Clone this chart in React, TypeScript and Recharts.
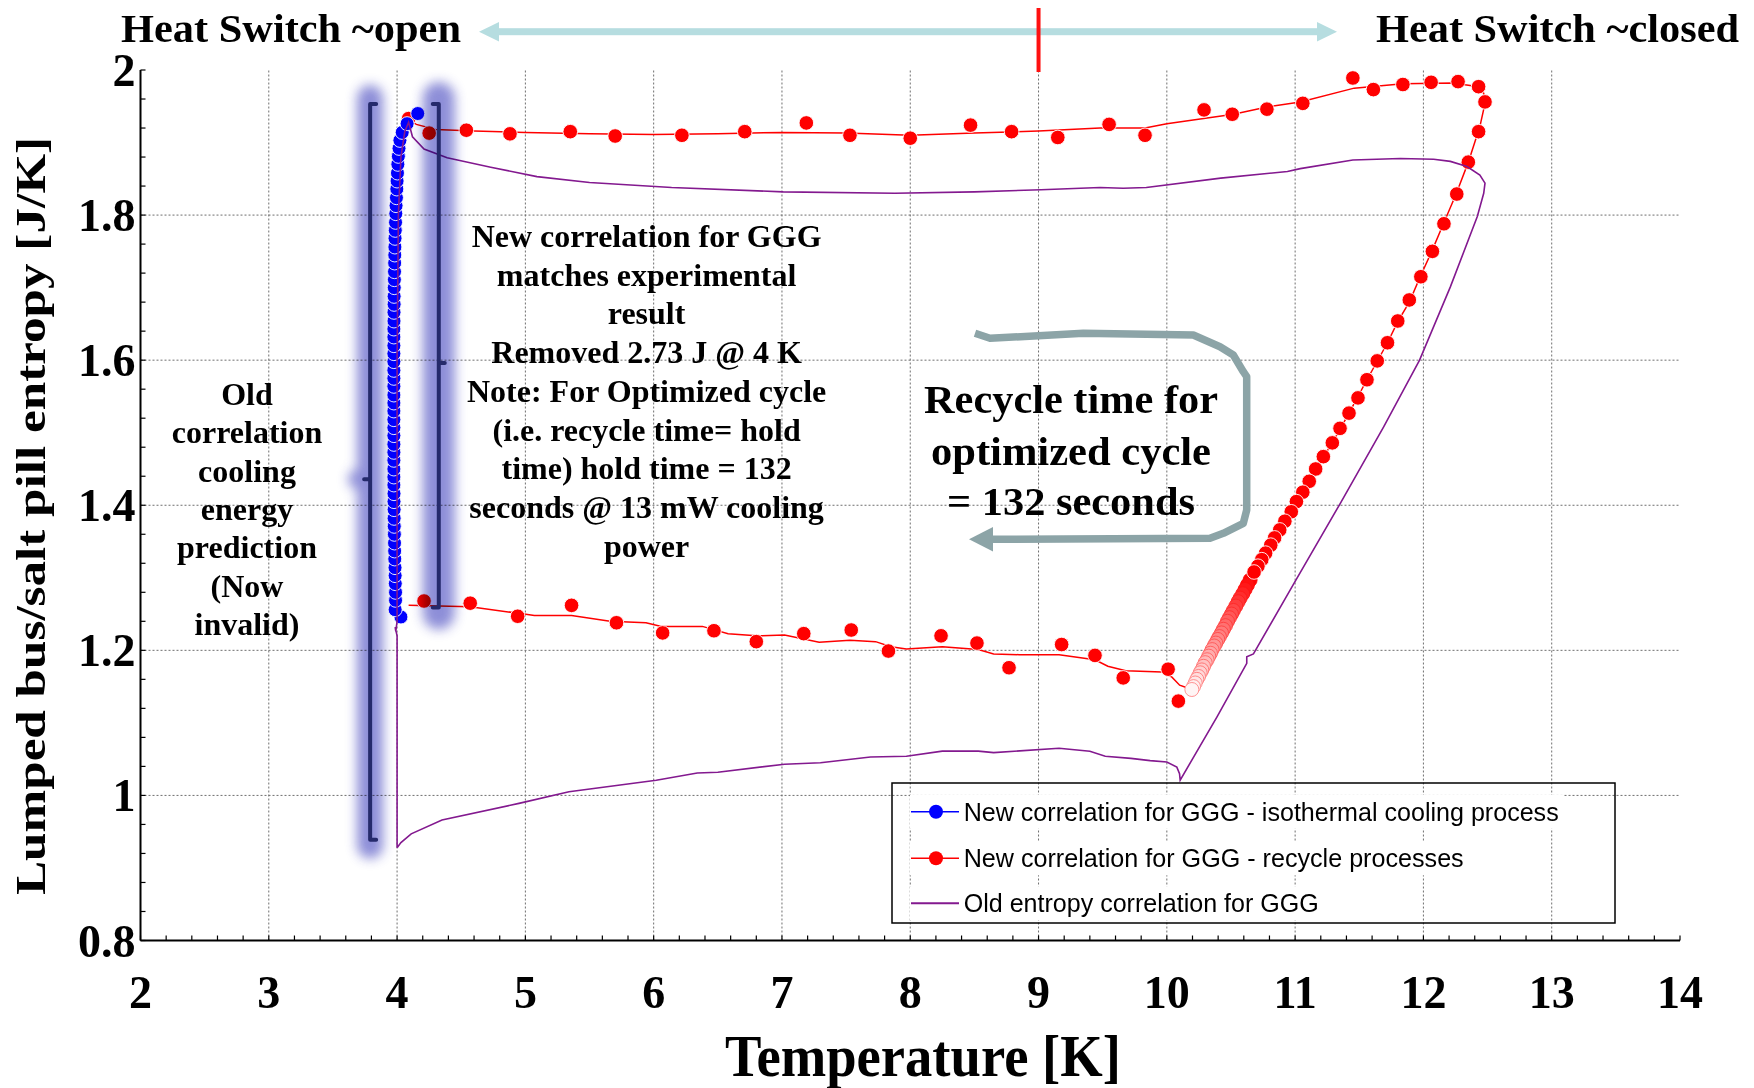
import React from 'react';
import { ComposedChart, Scatter, XAxis, YAxis, ReferenceLine } from 'recharts';

type P = [number, number];

// ---------- axes / ticks ----------
const X_DOMAIN: [number, number] = [2, 14];
const Y_DOMAIN: [number, number] = [0.8, 2];
const X_GRID = [3, 4, 5, 6, 7, 8, 9, 10, 11, 12, 13];
const Y_GRID = [1, 1.2, 1.4, 1.6, 1.8];
const X_MINOR = Array.from({ length: 61 }, (_, i) => +(2 + i * 0.2).toFixed(1));
const Y_MINOR = Array.from({ length: 31 }, (_, i) => +(0.8 + i * 0.04).toFixed(2));

// ---------- texts ----------
const HEADER_LEFT = 'Heat Switch ~open';
const HEADER_RIGHT = 'Heat Switch ~closed';
const X_LABEL = 'Temperature [K]';
const Y_LABEL = 'Lumped bus/salt pill entropy [J/K]';
const NEW_CORR_LINES = [
  'New correlation for GGG',
  'matches experimental',
  'result',
  'Removed 2.73 J @ 4 K',
  'Note: For Optimized cycle',
  '(i.e. recycle time= hold',
  'time) hold time = 132',
  'seconds @ 13 mW cooling',
  'power',
];
const OLD_CORR_LINES = ['Old', 'correlation', 'cooling', 'energy', 'prediction', '(Now', 'invalid)'];
const RECYCLE_LINES = ['Recycle time for', 'optimized cycle', '= 132 seconds'];
const LEGEND_NAMES = [
  'New correlation for GGG - isothermal cooling process',
  'New correlation for GGG - recycle processes',
  'Old entropy correlation for GGG',
];

// ---------- data (T [K], S [J/K]) ----------
const blueIsothermal: P[] = [
  [4.03, 1.246], [3.985, 1.256], [3.988, 1.269], [3.988, 1.280], [3.986, 1.292], [3.985, 1.303],
  [3.984, 1.314], [3.982, 1.326], [3.981, 1.337], [3.98, 1.348], [3.979, 1.360], [3.978, 1.371],
  [3.977, 1.382], [3.977, 1.394], [3.976, 1.405], [3.976, 1.416], [3.975, 1.428], [3.975, 1.439],
  [3.975, 1.450], [3.975, 1.462], [3.975, 1.473], [3.975, 1.484], [3.975, 1.496], [3.975, 1.507],
  [3.975, 1.518], [3.975, 1.530], [3.975, 1.541], [3.975, 1.552], [3.975, 1.564], [3.975, 1.575],
  [3.975, 1.586], [3.975, 1.598], [3.975, 1.609], [3.975, 1.620], [3.975, 1.632], [3.975, 1.643],
  [3.976, 1.654], [3.976, 1.666], [3.977, 1.677], [3.977, 1.688], [3.978, 1.700], [3.979, 1.711],
  [3.98, 1.722], [3.981, 1.734], [3.982, 1.745], [3.983, 1.756], [3.984, 1.768], [3.986, 1.779],
  [3.988, 1.790], [3.99, 1.802], [3.992, 1.813], [3.995, 1.824], [3.998, 1.836], [4.0, 1.847],
  [4.003, 1.858], [4.006, 1.870], [4.01, 1.881], [4.015, 1.892], [4.022, 1.903], [4.04, 1.914],
  [4.078, 1.926], [4.161, 1.940],
];

const redLine: P[] = [
  [4.06, 1.935], [4.15, 1.925], [4.3, 1.918], [4.6, 1.916], [5.0, 1.914], [5.5, 1.912], [6.0, 1.911],
  [6.5, 1.912], [7.0, 1.914], [7.5, 1.913], [8.0, 1.910], [8.5, 1.913], [9.0, 1.916], [9.48, 1.920],
  [9.83, 1.920], [10.0, 1.926], [10.52, 1.939], [10.78, 1.949], [11.04, 1.956], [11.46, 1.975],
  [11.84, 1.981], [12.23, 1.982], [12.39, 1.978], [12.47, 1.968], [12.48, 1.954], [12.44, 1.922],
  [12.35, 1.873], [12.255, 1.829], [12.156, 1.788], [12.065, 1.750], [11.975, 1.715], [11.89, 1.680],
  [11.80, 1.653], [11.72, 1.624], [11.56, 1.573], [11.42, 1.527], [11.29, 1.486], [11.16, 1.450],
  [11.06, 1.418], [10.97, 1.391], [10.88, 1.366], [10.81, 1.345], [10.74, 1.325], [10.65, 1.297],
  [10.54, 1.261], [10.44, 1.229], [10.34, 1.196], [10.26, 1.169], [10.195, 1.146],
  [10.10, 1.152], [10.04, 1.163], [9.96, 1.170], [9.68, 1.172], [9.54, 1.178], [9.44, 1.187],
  [9.16, 1.194], [8.85, 1.194], [8.65, 1.195], [8.53, 1.201], [8.25, 1.205], [7.97, 1.202],
  [7.85, 1.205], [7.73, 1.212], [7.53, 1.214], [7.29, 1.211], [7.02, 1.221], [6.80, 1.220],
  [6.58, 1.223], [6.38, 1.233], [6.06, 1.233], [5.94, 1.238], [5.66, 1.240], [5.36, 1.248],
  [5.07, 1.248], [4.95, 1.251], [4.57, 1.260], [4.09, 1.262],
];

const redDots: P[] = [
  [4.09, 1.933], [4.25, 1.913], [4.54, 1.917], [4.88, 1.912], [5.35, 1.915], [5.70, 1.909],
  [6.22, 1.910], [6.71, 1.915], [7.19, 1.927], [7.53, 1.910], [8.00, 1.906], [8.47, 1.924],
  [8.79, 1.915], [9.15, 1.907], [9.55, 1.925], [9.83, 1.910], [10.29, 1.945], [10.51, 1.939],
  [10.78, 1.946], [11.06, 1.954], [11.45, 1.989], [11.61, 1.973], [11.84, 1.980], [12.06, 1.983],
  [12.27, 1.984], [12.43, 1.977], [12.48, 1.956], [12.43, 1.915], [12.35, 1.873], [12.26, 1.829],
  [12.16, 1.788], [12.07, 1.750], [11.98, 1.715], [11.89, 1.683], [11.80, 1.654], [11.72, 1.624],
  [11.64, 1.599], [11.56, 1.573], [11.49, 1.548], [11.42, 1.527], [11.35, 1.506], [11.29, 1.486],
  [11.22, 1.467], [11.16, 1.450], [11.11, 1.433], [11.06, 1.418], [11.01, 1.405], [10.97, 1.391],
  [10.92, 1.378], [10.88, 1.366], [10.84, 1.355], [10.81, 1.345], [10.77, 1.334], [10.74, 1.325],
  [10.71, 1.316], [10.68, 1.308],
  // lower branch
  [4.21, 1.268], [4.57, 1.265], [4.94, 1.247], [5.36, 1.262], [5.71, 1.238], [6.07, 1.224],
  [6.47, 1.227], [6.80, 1.212], [7.17, 1.223], [7.54, 1.228], [7.83, 1.199], [8.24, 1.220],
  [8.52, 1.210], [8.77, 1.176], [9.18, 1.208], [9.44, 1.193], [9.66, 1.162], [10.01, 1.174],
  [10.09, 1.130],
];

const redFadeDots: P[] = [
  [10.649, 1.297], [10.628, 1.290], [10.610, 1.284], [10.592, 1.278], [10.571, 1.272], [10.556, 1.267],
  [10.538, 1.261], [10.519, 1.255], [10.504, 1.250], [10.488, 1.245], [10.473, 1.240], [10.457, 1.234],
  [10.441, 1.229], [10.426, 1.224], [10.410, 1.219], [10.397, 1.215], [10.382, 1.210], [10.369, 1.206],
  [10.353, 1.201], [10.340, 1.196], [10.327, 1.192], [10.314, 1.187], [10.299, 1.183], [10.286, 1.178],
  [10.273, 1.173], [10.260, 1.169], [10.247, 1.164], [10.234, 1.160], [10.221, 1.155], [10.208, 1.150],
  [10.195, 1.146],
];

const oldCorrelation: P[] = [
  [4.00, 0.928], [4.00, 1.000], [4.00, 1.100], [4.00, 1.220], [3.985, 1.232], [3.99, 1.226], [4.00, 1.240],
  [4.00, 1.400], [4.00, 1.600], [4.01, 1.800], [4.03, 1.880], [4.06, 1.915], [4.09, 1.928],
  [4.12, 1.908], [4.21, 1.891], [4.39, 1.879], [4.73, 1.866], [5.09, 1.853], [5.50, 1.845], [6.14, 1.838],
  [7.01, 1.832], [7.88, 1.830], [8.50, 1.832], [9.02, 1.835], [9.48, 1.838], [9.66, 1.837], [9.84, 1.838],
  [10.42, 1.851], [10.94, 1.860], [11.04, 1.864], [11.45, 1.876], [11.82, 1.878], [12.08, 1.877],
  [12.21, 1.874], [12.34, 1.867], [12.44, 1.855], [12.48, 1.844], [12.47, 1.830], [12.42, 1.798],
  [12.21, 1.701], [11.97, 1.600], [11.69, 1.508], [11.35, 1.402], [10.99, 1.292], [10.675, 1.195],
  [10.623, 1.191], [10.623, 1.182], [10.39, 1.108], [10.104, 1.021], [10.099, 1.030], [10.078, 1.039],
  [10.00, 1.046], [9.87, 1.048], [9.72, 1.051], [9.52, 1.054], [9.40, 1.061], [9.16, 1.065], [8.65, 1.059],
  [8.53, 1.061], [8.25, 1.061], [7.97, 1.054], [7.69, 1.053], [7.30, 1.045], [7.02, 1.043], [6.50, 1.032],
  [6.34, 1.031], [6.02, 1.021], [5.34, 1.005], [4.95, 0.989], [4.35, 0.966], [4.11, 0.947], [4.03, 0.935],
  [4.00, 0.928],
];

// annotation anchors in data units
const HEAT_SWITCH_T = 9;
const BRACKET_LEFT = { T: 3.79, top: 1.953, bottom: 0.939, nub: 1.436 };
const BRACKET_RIGHT = { T: 4.325, top: 1.953, bottom: 1.259, nub: 1.596 };

const toPts = (a: P[]) => a.map(([T, S]) => ({ T, S }));

// ---------- layout ----------
const W = 1746;
const H = 1080;
const PLOT = { left: 132.5, top: 62, right: 1672, bottom: 932.5 };
const Y_AXIS_W = 100;
const X_AXIS_H = 60;
const px = (T: number) => PLOT.left + ((T - X_DOMAIN[0]) / (X_DOMAIN[1] - X_DOMAIN[0])) * (PLOT.right - PLOT.left);
const py = (S: number) => PLOT.top + ((Y_DOMAIN[1] - S) / (Y_DOMAIN[1] - Y_DOMAIN[0])) * (PLOT.bottom - PLOT.top);

const SERIF = "'Liberation Serif', 'Times New Roman', serif";
const SANS = "'Liberation Sans', Arial, sans-serif";
const RED = '#ff0000';
const BLUE = '#0000ff';
const PURPLE = '#83198f';

const EmptyTick = () => <g />;

const XTick = (p: any) => {
  const v = p.payload.value;
  if (Math.abs(v - Math.round(v)) > 1e-6) return <g />;
  return (
    <text x={p.x} y={p.y + 72} textAnchor="middle" fontFamily={SERIF} fontWeight="bold" fontSize={46} fill="#000">
      {Math.round(v)}
    </text>
  );
};

const YTick = (p: any) => {
  const v = p.payload.value;
  if (Math.abs(v * 5 - Math.round(v * 5)) > 1e-6) return <g />;
  return (
    <text x={p.x + 3} y={p.y + 16} textAnchor="end" fontFamily={SERIF} fontWeight="bold" fontSize={46} fill="#000">
      {String(+v.toFixed(1))}
    </text>
  );
};

const RedDot = (p: any) => <circle cx={p.cx} cy={p.cy} r={7.3} fill={RED} stroke="#fff" strokeWidth={0.9} />;
const BlueDot = (p: any) => <circle cx={p.cx} cy={p.cy} r={7} fill={BLUE} stroke="#fff" strokeWidth={0.9} />;
const FadeDot = (p: any) => {
  const a = Math.max(0.04, Math.min(1, (p.payload.S - 1.14) / 0.16));
  const g = Math.round(255 * (1 - a));
  const gs = Math.round(g * 0.55);
  return <circle cx={p.cx} cy={p.cy} r={7} fill={`rgb(255,${g},${g})`} stroke={`rgb(255,${gs},${gs})`} strokeWidth={0.9} />;
};
const NoDot = () => <g />;

const Bracket = ({ b, dir }: { b: typeof BRACKET_LEFT; dir: 1 | -1 }) => {
  const x = px(b.T);
  const y1 = py(b.top);
  const y2 = py(b.bottom);
  const yn = py(b.nub);
  return (
    <path
      d={`M ${x + dir * 6} ${y1} L ${x} ${y1} L ${x} ${y2} L ${x + dir * 6} ${y2} M ${x} ${yn} L ${x - dir * 6} ${yn}`}
      fill="none"
      stroke="#252a6b"
      strokeWidth={4}
      strokeLinejoin="round"
      strokeLinecap="round"
    />
  );
};

export default function App() {
  const legendRows = [0, 1, 2];
  const legendRowY = [803.7, 850.3, 895.3];
  const legendTextLen = [595, 500, 355];
  return (
    <div style={{ position: 'relative', width: W, height: H }}>
      <ComposedChart
        width={W}
        height={H}
        margin={{ top: PLOT.top, right: W - PLOT.right, bottom: H - PLOT.bottom - X_AXIS_H, left: PLOT.left - Y_AXIS_W }}
      >
        <XAxis
          dataKey="T"
          type="number"
          domain={X_DOMAIN}
          allowDataOverflow
          ticks={X_MINOR}
          interval={0}
          height={X_AXIS_H}
          tickSize={-5}
          tickMargin={0}
          tick={XTick}
          axisLine={{ stroke: '#000', strokeWidth: 2 }}
          tickLine={{ stroke: '#000', strokeWidth: 1.2 }}
        />
        <XAxis
          xAxisId="top"
          orientation="top"
          dataKey="T"
          type="number"
          domain={X_DOMAIN}
          allowDataOverflow
          ticks={X_MINOR}
          interval={0}
          height={0}
          tickSize={-5}
          tick={EmptyTick}
          axisLine={{ stroke: '#000', strokeWidth: 2 }}
          tickLine={{ stroke: '#000', strokeWidth: 1.2 }}
        />
        <YAxis
          dataKey="S"
          type="number"
          domain={Y_DOMAIN}
          allowDataOverflow
          ticks={Y_MINOR}
          interval={0}
          width={Y_AXIS_W}
          tickSize={-5}
          tickMargin={13}
          tick={YTick}
          axisLine={{ stroke: '#000', strokeWidth: 2 }}
          tickLine={{ stroke: '#000', strokeWidth: 1.2 }}
        />
        <YAxis
          yAxisId="right"
          orientation="right"
          dataKey="S"
          type="number"
          domain={Y_DOMAIN}
          allowDataOverflow
          ticks={Y_MINOR}
          interval={0}
          width={0}
          tickSize={-5}
          tick={EmptyTick}
          axisLine={{ stroke: '#000', strokeWidth: 2 }}
          tickLine={{ stroke: '#000', strokeWidth: 1.2 }}
        />
        {X_GRID.map((v) => (
          <ReferenceLine key={`gx${v}`} x={v} stroke="#6f6f6f" strokeWidth={1} strokeDasharray="2 2" />
        ))}
        {Y_GRID.map((v) => (
          <ReferenceLine key={`gy${v}`} y={v} stroke="#6f6f6f" strokeWidth={1} strokeDasharray="2 2" />
        ))}
        <Scatter
          name="recycle-line"
          data={toPts(redLine)}
          line={{ stroke: RED, strokeWidth: 1.5 }}
          lineType="joint"
          shape={NoDot}
          isAnimationActive={false}
        />
        <Scatter name="recycle-fade" data={toPts(redFadeDots)} shape={FadeDot} isAnimationActive={false} />
        <Scatter name="recycle" data={toPts(redDots)} shape={RedDot} isAnimationActive={false} />
        <Scatter name="isothermal" data={toPts(blueIsothermal)} shape={BlueDot} isAnimationActive={false} />
        <Scatter
          name="old"
          data={toPts(oldCorrelation)}
          line={{ stroke: PURPLE, strokeWidth: 1.6 }}
          lineType="joint"
          shape={NoDot}
          isAnimationActive={false}
        />
      </ComposedChart>

      {/* glow behind brackets, multiplied over the chart */}
      <svg
        width={W}
        height={H}
        style={{ position: 'absolute', left: 0, top: 0, pointerEvents: 'none', mixBlendMode: 'multiply' }}
      >
        <defs>
          <filter id="glow" x="-100%" y="-10%" width="300%" height="120%">
            <feGaussianBlur stdDeviation="6" />
          </filter>
        </defs>
        <g filter="url(#glow)" opacity={0.95}>
          <line x1={px(BRACKET_LEFT.T)} x2={px(BRACKET_LEFT.T)} y1={py(BRACKET_LEFT.top) - 6} y2={py(BRACKET_LEFT.bottom) + 6} stroke="#8788d6" strokeWidth={26} strokeLinecap="round" />
          <line x1={px(BRACKET_LEFT.T) - 12} x2={px(BRACKET_LEFT.T)} y1={py(BRACKET_LEFT.nub)} y2={py(BRACKET_LEFT.nub)} stroke="#8788d6" strokeWidth={20} strokeLinecap="round" />
          <line x1={px(BRACKET_RIGHT.T)} x2={px(BRACKET_RIGHT.T)} y1={py(BRACKET_RIGHT.top) - 6} y2={py(BRACKET_RIGHT.bottom) + 6} stroke="#8788d6" strokeWidth={32} strokeLinecap="round" />
        </g>
      </svg>

      <svg
        width={W}
        height={H}
        style={{ position: 'absolute', left: 0, top: 0, pointerEvents: 'none', overflow: 'visible' }}
      >
        {/* header */}
        <text x={113} y={34} fontFamily={SERIF} fontWeight="bold" fontSize={40} textLength={340} lengthAdjust="spacingAndGlyphs">
          {HEADER_LEFT}
        </text>
        <text x={1368} y={34} fontFamily={SERIF} fontWeight="bold" fontSize={40} textLength={363} lengthAdjust="spacingAndGlyphs">
          {HEADER_RIGHT}
        </text>
        <g fill="#b6dde0" stroke="none">
          <rect x={488} y={20.2} width={824} height={7} />
          <polygon points="471,23.7 491,14 491,33.4" />
          <polygon points="1329,23.7 1309,14 1309,33.4" />
        </g>
        <line x1={px(HEAT_SWITCH_T)} x2={px(HEAT_SWITCH_T)} y1={-6} y2={64} stroke="#ff1010" strokeWidth={4} />

        {/* brackets */}
        <Bracket b={BRACKET_LEFT} dir={1} />
        <Bracket b={BRACKET_RIGHT} dir={-1} />

        {/* annotations */}
        <g fontFamily={SERIF} fontWeight="bold" fontSize={32} textAnchor="middle" fill="#000">
          {NEW_CORR_LINES.map((t, i) => (
            <text key={t} x={638.6} y={239 + i * 38.7}>
              {t}
            </text>
          ))}
          {OLD_CORR_LINES.map((t, i) => (
            <text key={t} x={239} y={397 + i * 38.3}>
              {t}
            </text>
          ))}
        </g>
        <g fontFamily={SERIF} fontWeight="bold" fontSize={41} textAnchor="middle" fill="#000">
          <text x={1063} y={405} textLength={294} lengthAdjust="spacingAndGlyphs">{RECYCLE_LINES[0]}</text>
          <text x={1063} y={457} textLength={280} lengthAdjust="spacingAndGlyphs">{RECYCLE_LINES[1]}</text>
          <text x={1063} y={507} textLength={248} lengthAdjust="spacingAndGlyphs">{RECYCLE_LINES[2]}</text>
        </g>
        <path
          d="M 967 325.3 L 982 330.3 L 1075.3 325.3 L 1185.3 327 L 1212 338.7 L 1225.3 347 L 1235.3 363.7 L 1238.7 368.7 L 1238.7 502 L 1235.3 515.3 L 1215.3 525.3 L 1202 530.3 L 984 531.3"
          fill="none"
          stroke="#8ca4a7"
          strokeWidth={7.5}
          strokeLinejoin="round"
        />
        <polygon points="961,531.3 985,519 985,543.6" fill="#8ca4a7" />

        {/* axis titles */}
        <text x={915} y={1068} textAnchor="middle" fontFamily={SERIF} fontWeight="bold" fontSize={60} textLength={396} lengthAdjust="spacingAndGlyphs">
          {X_LABEL}
        </text>
        <text
          x={23}
          y={508}
          transform="rotate(-90 23 508)"
          textAnchor="middle"
          dominantBaseline="central"
          fontFamily={SERIF}
          fontWeight="bold"
          fontSize={42}
          textLength={758}
          lengthAdjust="spacingAndGlyphs"
        >
          {Y_LABEL}
        </text>

        {/* legend */}
        <rect x={884} y={775} width={723} height={140} fill="none" stroke="#000" strokeWidth={1.5} />
        {legendRows.map((i) => (
          <g key={i}>
            <rect x={902} y={legendRowY[i] - 17} width={58 + legendTextLen[i]} height={34} fill="#fff" />
            <line x1={903} x2={951} y1={legendRowY[i]} y2={legendRowY[i]} stroke={[BLUE, RED, PURPLE][i]} strokeWidth={i === 2 ? 2 : 1.5} />
            {i < 2 && <circle cx={928} cy={legendRowY[i]} r={7} fill={[BLUE, RED][i]} />}
            <text x={955.7} y={legendRowY[i] + 9} fontFamily={SANS} fontSize={25.5} textLength={legendTextLen[i]} lengthAdjust="spacingAndGlyphs" fill="#000">
              {LEGEND_NAMES[i]}
            </text>
          </g>
        ))}
      </svg>
    </div>
  );
}
